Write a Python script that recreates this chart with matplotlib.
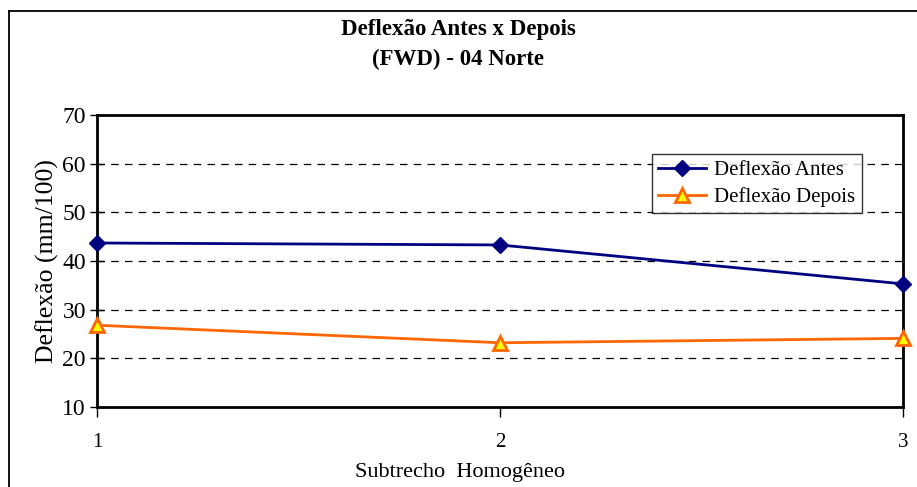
import matplotlib
matplotlib.use("Agg")
from matplotlib import pyplot as plt
from matplotlib.lines import Line2D

plt.rcParams['font.family'] = ['Liberation Serif', 'DejaVu Serif']

subtrechos = [1, 2, 3]
deflexao_antes = [43.7, 43.3, 35.3]
deflexao_depois = [26.8, 23.2, 24.1]

fig = plt.figure(figsize=(9.17, 4.87), dpi=100)
ax = fig.add_axes([97 / 917, 1 - 407 / 487, (903 - 97) / 917, (407 - 115) / 487])

# outer chart frame (left and top only, as in the source)
fig.add_artist(Line2D([8.5 / 917, 8.5 / 917], [0, 1 - 10.5 / 487], transform=fig.transFigure, color='black', lw=1.3))
fig.add_artist(Line2D([8.5 / 917, 1], [1 - 10.5 / 487, 1 - 10.5 / 487], transform=fig.transFigure, color='black', lw=1.3))

for y in [20, 30, 40, 50, 60]:
    ax.axhline(y, color='black', lw=0.9, ls=(0, (6, 5)), zorder=1)

ax.plot(subtrechos, deflexao_antes, color='#000080', lw=2, marker='D', ms=8,
        mfc='#000080', mec='#000080', label='Deflexão Antes', zorder=3, clip_on=False)
ax.plot(subtrechos, deflexao_depois, color='#FF6600', lw=2, marker='^', ms=10,
        mfc='#FFFF00', mec='#FF6600', mew=2, label='Deflexão Depois', zorder=3, clip_on=False)

ax.set_xlim(1, 3)
ax.set_ylim(10, 70)
ax.set_xticks(subtrechos)
ax.set_yticks(range(10, 71, 10))
ax.tick_params(axis='y', direction='inout', length=10, width=1, labelsize=17, pad=3)
ax.tick_params(axis='x', direction='out', length=7, width=1, labelsize=15, pad=12)
for s in ax.spines.values():
    s.set_linewidth(2)

ax.set_ylabel('Deflexão (mm/100)', fontsize=18.5, labelpad=2)
fig.text(460 / 917, 1 - 472 / 487, 'Subtrecho  Homogêneo', ha='center', va='center', fontsize=16)

fig.text(0.5, 1 - 30 / 487, 'Deflexão Antes x Depois', ha='center', va='center',
         fontsize=16.5, fontweight='bold')
fig.text(0.5, 1 - 59 / 487, '(FWD) - 04 Norte', ha='center', va='center',
         fontsize=16.5, fontweight='bold')

leg = ax.legend(loc='upper left', bbox_to_anchor=((652 - 97) / 806, 1 - (154 - 115) / 292),
                fontsize=15, frameon=True, fancybox=False, edgecolor='black',
                borderpad=0.3, handlelength=2.3, handletextpad=0.4, labelspacing=0.35,
                borderaxespad=0)
leg.get_frame().set_linewidth(1)
leg.set_zorder(5)

fig.savefig('out.png', dpi=100)
